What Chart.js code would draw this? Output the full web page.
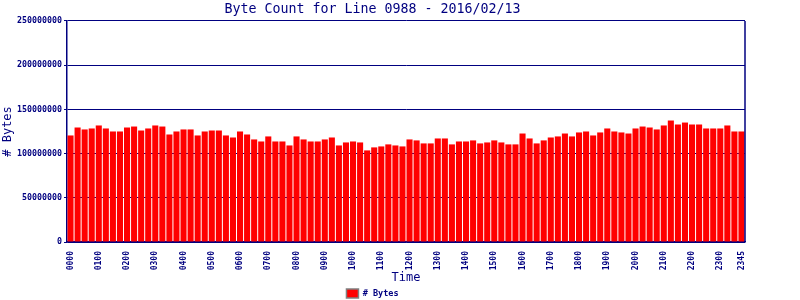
<!DOCTYPE html>
<html>
<head>
<meta charset="utf-8">
<script src="https://cdn.jsdelivr.net/npm/chart.js@4"></script>
<style>
  body { margin: 0; background: #fff; }
  #wrap { width: 800px; height: 300px; }
</style>
</head>
<body>
<div id="wrap"><canvas id="grafico"></canvas></div>
<script>
// horas cada 15 minutos
let horas = [];
for (let h = 0; h < 24; h++) {
    for (let m = 0; m < 60; m += 15) {
        horas.push(String(h).padStart(2, "0") + String(m).padStart(2, "0"));
    }
}

// bytes por intervalo (millones)
let bytesM = [
    120.5, 129.5, 127.3, 128.4, 131.8, 128.4, 125.0, 125.0,
    129.5, 130.6, 126.1, 128.4, 131.8, 130.6, 121.6, 125.0,
    127.3, 127.3, 120.5, 125.0, 126.1, 126.1, 120.5, 118.2,
    125.0, 121.6, 116.0, 113.7, 119.4, 113.7, 113.7, 109.2,
    119.4, 116.0, 113.7, 113.7, 116.0, 118.2, 109.2, 112.6,
    113.7, 112.6, 103.6, 107.0, 108.1, 110.4, 109.2, 108.1,
    116.0, 114.9, 111.5, 111.5, 117.1, 117.1, 110.4, 113.7,
    113.7, 114.9, 111.5, 112.6, 114.9, 112.6, 110.4, 110.4,
    122.7, 117.1, 111.5, 114.9, 118.2, 119.4, 122.7, 119.4,
    123.9, 125.0, 120.5, 123.9, 128.4, 125.0, 123.9, 122.7,
    128.4, 130.6, 129.5, 127.3, 131.8, 137.4, 132.9, 135.1,
    132.9, 132.9, 128.4, 128.4, 128.4, 131.8, 125.0, 125.0
];
let bytes = bytesM.map(v => Math.round(v * 1000000));

let azul = "#000080";
let fuente = "'DejaVu Sans Mono', monospace";

// borde derecho del area
const borde = {
    id: "borde",
    afterDraw(chart) {
        let a = chart.chartArea;
        let ctx = chart.ctx;
        ctx.save();
        ctx.strokeStyle = azul;
        ctx.lineWidth = 1.5;
        ctx.beginPath();
        ctx.moveTo(a.right, a.top);
        ctx.lineTo(a.right, a.bottom);
        ctx.stroke();
        ctx.restore();
    }
};

let ctx = document.getElementById("grafico").getContext("2d");

new Chart(ctx, {
    type: "bar",
    data: {
        labels: horas,
        datasets: [{
            label: "# Bytes",
            data: bytes,
            backgroundColor: "#ff0000",
            borderWidth: 0,
            categoryPercentage: 1.0,
            barPercentage: 0.86
        }]
    },
    options: {
        responsive: true,
        maintainAspectRatio: false,
        animation: false,
        layout: { padding: { left: 0, right: 55, top: 0, bottom: -8 } },
        plugins: {
            title: {
                display: true,
                text: "Byte Count for Line 0988 - 2016/02/13",
                color: azul,
                font: { family: fuente, size: 13.3, weight: "normal" },
                padding: { top: 2, bottom: 3 }
            },
            legend: {
                position: "bottom",
                labels: {
                    color: azul,
                    font: { family: fuente, size: 8.5, weight: "bold" },
                    boxWidth: 12,
                    boxHeight: 9,
                    padding: 2,
                    generateLabels: () => [{
                        text: "# Bytes",
                        fillStyle: "#ff0000",
                        strokeStyle: "#808080",
                        lineWidth: 1.5,
                        fontColor: azul
                    }]
                }
            },
            tooltip: { enabled: false }
        },
        scales: {
            x: {
                afterFit: function (s) { s.height = 45; },
                grid: { display: false },
                border: { color: azul, width: 1.5 },
                ticks: {
                    color: azul,
                    font: { family: fuente, size: 8, weight: "bold" },
                    autoSkip: false,
                    maxRotation: 90,
                    minRotation: 90,
                    padding: 1,
                    callback: function (val, i) {
                        return (i % 4 === 0 || i === horas.length - 1) ? horas[i] : null;
                    }
                },
                title: {
                    display: true,
                    text: "Time",
                    color: azul,
                    font: { family: fuente, size: 12 },
                    padding: { top: 0, bottom: 2 }
                }
            },
            y: {
                min: 0,
                max: 250000000,
                z: 1,
                afterFit: function (s) { s.width = 67; },
                grid: { color: azul, lineWidth: 1, tickLength: 3, drawOnChartArea: true },
                border: { color: azul, width: 1.5 },
                ticks: {
                    stepSize: 50000000,
                    color: azul,
                    font: { family: fuente, size: 8.3, weight: "bold" },
                    padding: 2,
                    callback: v => String(v)
                },
                title: {
                    display: true,
                    text: "# Bytes",
                    color: azul,
                    font: { family: fuente, size: 12 },
                    padding: { top: 1, bottom: 0 }
                }
            }
        }
    },
    plugins: [borde]
});
</script>
</body>
</html>
